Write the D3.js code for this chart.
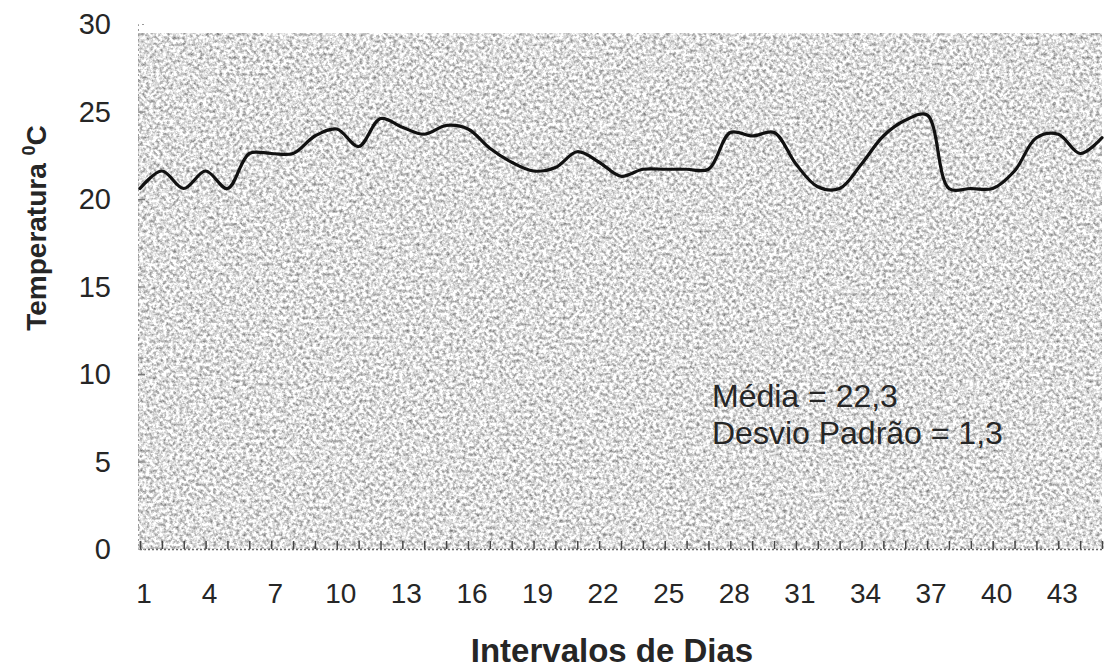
<!DOCTYPE html>
<html>
<head>
<meta charset="utf-8">
<script src="https://cdn.jsdelivr.net/npm/d3@7/dist/d3.min.js"></script>
<style>
  html, body { margin: 0; padding: 0; background: #ffffff; }
  svg { display: block; }
  text { font-family: "Liberation Sans", Arial, Helvetica, sans-serif; fill: #262626; }
</style>
</head>
<body>
<svg id="chart" width="1107" height="669"></svg>
<script>
// ---- data ----
const days = d3.range(1, 46);
const temperatures = [
  20.6, 21.6, 20.6, 21.6, 20.6, 22.6, 22.6, 22.6, 23.6, 24.0,
  23.0, 24.6, 24.1, 23.7, 24.2, 24.0, 22.9, 22.1, 21.6, 21.8,
  22.7, 22.1, 21.3, 21.7, 21.7, 21.7, 21.7, 23.8, 23.6, 23.8,
  22.0, 20.7, 20.6, 22.0, 23.6, 24.5, 24.8, 20.6, 20.6, 20.6,
  21.6, 23.5, 23.7, 22.6, 23.5
];
const xTickLabels = [1, 4, 7, 10, 13, 16, 19, 22, 25, 28, 31, 34, 37, 40, 43];
const yTickLabels = [0, 5, 10, 15, 20, 25, 30];
const annotations = ["Média = 22,3", "Desvio Padrão = 1,3"];
const xTitle = "Intervalos de Dias";
const yTitle = "Temperatura";

// ---- layout ----
const svg = d3.select("#chart");
const x = d3.scaleLinear().domain([1, 45]).range([140, 1102]);
const y = d3.scaleLinear().domain([0, 30]).range([549, 24]);

// noise filter for scanned grey background
const defs = svg.append("defs");
const f = defs.append("filter").attr("id", "grain")
  .attr("x", 0).attr("y", 0).attr("width", 1).attr("height", 1)
  .attr("filterUnits", "objectBoundingBox")
  .attr("color-interpolation-filters", "sRGB");
f.append("feTurbulence").attr("type", "fractalNoise")
  .attr("baseFrequency", 0.3).attr("numOctaves", 3).attr("seed", 7).attr("result", "n");
f.append("feColorMatrix").attr("type", "matrix")
  .attr("values", "1.0 0 0 0 0.37  1.0 0 0 0 0.37  1.0 0 0 0 0.37  0 0 0 0 1");

const plotLeft = x(1) - 2, plotRight = x(45), plotTop = y(29.45), plotBottom = y(0);
svg.append("rect")
  .attr("x", plotLeft).attr("y", plotTop)
  .attr("width", plotRight - plotLeft).attr("height", plotBottom - plotTop)
  .attr("fill", "#c8c8c8")
  .attr("filter", "url(#grain)");

// bottom axis: dotted baseline + small day ticks
const gx = svg.append("g").attr("transform", `translate(0,${plotBottom})`)
  .call(d3.axisBottom(x).tickValues(days).tickSize(-8).tickFormat(""));
gx.select(".domain").attr("stroke", "#666").attr("stroke-width", 1.5).attr("stroke-dasharray", "2,2");
gx.selectAll(".tick line").attr("stroke", "#444").attr("stroke-width", 1.5);

// left axis: faint dotted edge + small ticks
const gy = svg.append("g").attr("transform", `translate(${plotLeft},0)`)
  .call(d3.axisLeft(y).tickValues(yTickLabels.slice(1, 6)).tickSize(-7).tickFormat(""));
gy.select(".domain").attr("stroke", "#999").attr("stroke-width", 1).attr("stroke-dasharray", "2,3");
gy.selectAll(".tick line").attr("stroke", "#777").attr("stroke-width", 1.2);

// y tick labels
svg.append("g").selectAll("text").data(yTickLabels).join("text")
  .attr("x", 111).attr("y", d => y(d)).attr("dy", "0.36em")
  .attr("text-anchor", "end").attr("font-size", 29)
  .text(d => d);

// x tick labels
svg.append("g").selectAll("text").data(xTickLabels).join("text")
  .attr("x", d => x(d) + 4).attr("y", 603)
  .attr("text-anchor", "middle").attr("font-size", 28)
  .text(d => d);

// line
const line = d3.line().x((d, i) => x(days[i])).y(d => y(d)).curve(d3.curveCatmullRom.alpha(0.5));
svg.append("path").datum(temperatures)
  .attr("d", line).attr("fill", "none")
  .attr("stroke", "#111").attr("stroke-width", 3.2)
  .attr("stroke-linejoin", "round").attr("stroke-linecap", "round");

// annotations
svg.append("g").selectAll("text").data(annotations).join("text")
  .attr("x", 712).attr("y", (d, i) => 407 + i * 37)
  .attr("font-size", 32)
  .text(d => d);

// x title
svg.append("text")
  .attr("x", 612).attr("y", 662).attr("text-anchor", "middle")
  .attr("font-size", 33).attr("font-weight", "bold")
  .text(xTitle);

// y title
const yt = svg.append("text")
  .attr("transform", "translate(46,228) rotate(-90)")
  .attr("text-anchor", "middle").attr("font-size", 28).attr("font-weight", "bold");
yt.append("tspan").text(yTitle + "  ");
yt.append("tspan").attr("font-size", 18).attr("dy", -11).text("0");
yt.append("tspan").attr("dy", 11).text("C");
</script>
</body>
</html>
